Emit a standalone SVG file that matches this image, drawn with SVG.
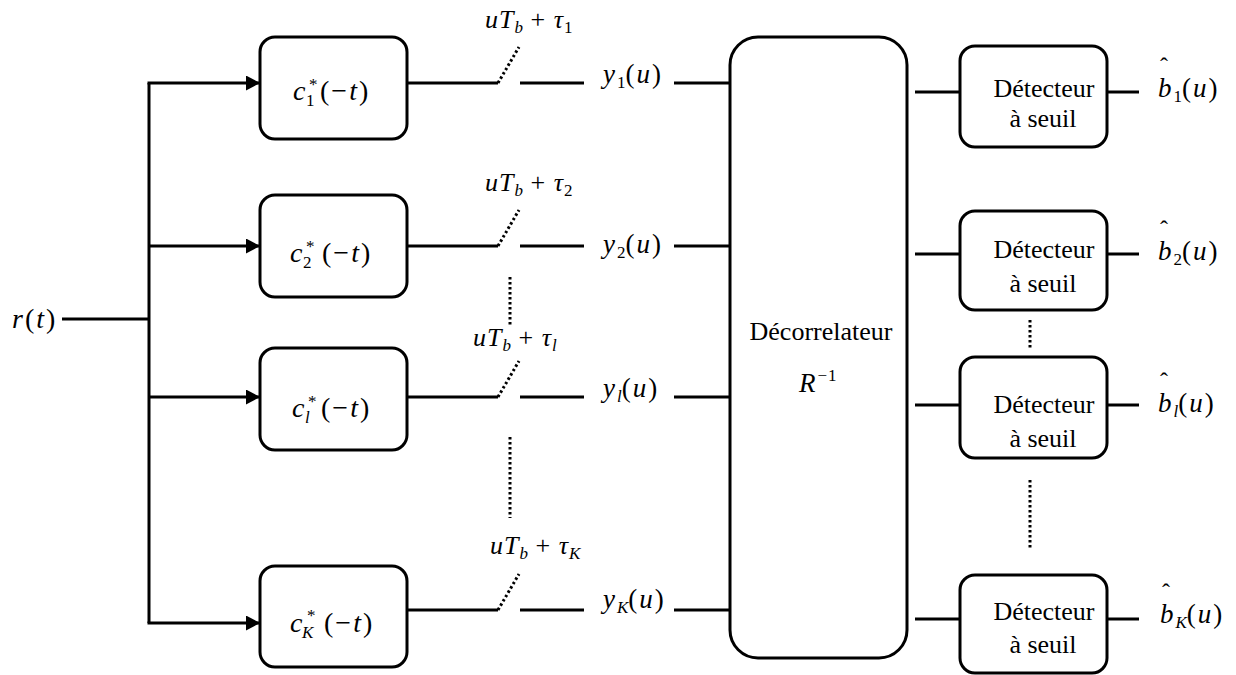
<svg xmlns="http://www.w3.org/2000/svg" width="1236" height="675" viewBox="0 0 1236 675">
<defs>
<marker id="arr" markerUnits="userSpaceOnUse" markerWidth="15" markerHeight="15" refX="14" refY="7.5" orient="auto">
<path d="M0,0 L14,7.5 L0,15 z" fill="#000"/>
</marker>
</defs>
<style>
.ln{stroke:#000;stroke-width:3;fill:none}
.dot{stroke:#000;stroke-width:3;fill:none;stroke-dasharray:2.5 2.5}
.box{fill:#fff;stroke:#000;stroke-width:3}
.m{font-family:'Liberation Serif', serif;font-style:italic;font-size:27px;letter-spacing:2px;fill:#000}
.mc{font-size:28px;letter-spacing:2px}
.mt{font-size:26px;letter-spacing:1px}
.u{font-style:normal}
.s{font-size:17px;font-style:normal;letter-spacing:0}
.si{font-size:17px;letter-spacing:0}
.hat{font-family:'Liberation Serif', serif;font-size:24px;fill:#000}
.t{font-family:'Liberation Serif', serif;font-size:26px;fill:#000}
</style>
<rect width="1236" height="675" fill="#fff"/>

<g id="connectors">
<line class="ln" x1="62" y1="319" x2="149" y2="319"/>
<line class="ln" x1="149" y1="83" x2="149" y2="623"/>
<line class="ln" x1="147.5" y1="83" x2="260" y2="83" marker-end="url(#arr)"/>
<line class="ln" x1="149" y1="246" x2="260" y2="246" marker-end="url(#arr)"/>
<line class="ln" x1="149" y1="397" x2="260" y2="397" marker-end="url(#arr)"/>
<line class="ln" x1="147.5" y1="623" x2="260" y2="623" marker-end="url(#arr)"/>
<line class="ln" x1="407" y1="83" x2="498" y2="83"/>
<line class="dot" x1="498" y1="83" x2="519" y2="47"/>
<line class="ln" x1="520" y1="83" x2="584" y2="83"/>
<line class="ln" x1="674" y1="83" x2="730" y2="83"/>
<line class="ln" x1="407" y1="246" x2="498" y2="246"/>
<line class="dot" x1="498" y1="246" x2="519" y2="210"/>
<line class="ln" x1="520" y1="246" x2="584" y2="246"/>
<line class="ln" x1="674" y1="246" x2="730" y2="246"/>
<line class="ln" x1="407" y1="397" x2="498" y2="397"/>
<line class="dot" x1="498" y1="397" x2="519" y2="361"/>
<line class="ln" x1="520" y1="397" x2="584" y2="397"/>
<line class="ln" x1="674" y1="397" x2="730" y2="397"/>
<line class="ln" x1="407" y1="610" x2="498" y2="610"/>
<line class="dot" x1="498" y1="610" x2="519" y2="574"/>
<line class="ln" x1="520" y1="610" x2="584" y2="610"/>
<line class="ln" x1="674" y1="610" x2="730" y2="610"/>
<line class="dot" x1="510" y1="277" x2="510" y2="325"/>
<line class="dot" x1="510" y1="437" x2="510" y2="518"/>
<line class="ln" x1="915" y1="92" x2="960" y2="92"/>
<line class="ln" x1="1107" y1="92" x2="1139" y2="92"/>
<line class="ln" x1="915" y1="254" x2="960" y2="254"/>
<line class="ln" x1="1107" y1="254" x2="1139" y2="254"/>
<line class="ln" x1="915" y1="405" x2="960" y2="405"/>
<line class="ln" x1="1107" y1="405" x2="1139" y2="405"/>
<line class="ln" x1="915" y1="619" x2="960" y2="619"/>
<line class="ln" x1="1107" y1="619" x2="1139" y2="619"/>
<line class="dot" x1="1030" y1="320" x2="1030" y2="349"/>
<line class="dot" x1="1030" y1="480" x2="1030" y2="548"/>
</g>

<g id="node-r">
<text class="m mc" x="12" y="328">r<tspan class="u">(</tspan>t<tspan class="u">)</tspan></text>
</g>

<g id="node-c1">
<rect class="box" x="260" y="37" width="147" height="102" rx="15"/>
<text class="m mc" x="293" y="100">c</text>
<text class="m s" x="306" y="106">1</text>
<text class="m s" x="309" y="90">*</text>
<text class="m mc" x="320" y="100"><tspan class="u">(−</tspan>t<tspan class="u">)</tspan></text>
</g>
<g id="node-c2">
<rect class="box" x="260" y="195" width="147" height="102" rx="15"/>
<text class="m mc" x="290" y="262">c</text>
<text class="m s" x="303" y="268">2</text>
<text class="m s" x="306" y="252">*</text>
<text class="m mc" x="322" y="262"><tspan class="u">(−</tspan>t<tspan class="u">)</tspan></text>
</g>
<g id="node-cl">
<rect class="box" x="260" y="348" width="147" height="102" rx="15"/>
<text class="m mc" x="292" y="417">c</text>
<text class="m si" x="305" y="423">l</text>
<text class="m s" x="308" y="407">*</text>
<text class="m mc" x="321" y="417"><tspan class="u">(−</tspan>t<tspan class="u">)</tspan></text>
</g>
<g id="node-cK">
<rect class="box" x="260" y="566" width="147" height="101" rx="15"/>
<text class="m mc" x="290" y="632">c</text>
<text class="m si" x="302" y="638">K</text>
<text class="m s" x="307" y="621">*</text>
<text class="m mc" x="324" y="632"><tspan class="u">(−</tspan>t<tspan class="u">)</tspan></text>
</g>

<g id="node-sw1">
<text class="m mt" x="485" y="28">uT<tspan class="si" dy="5">b</tspan><tspan class="u" dy="-5"> + </tspan>τ<tspan class="s" dy="5">1</tspan></text>
<text class="m" x="603" y="83">y<tspan class="s" dy="5">1</tspan><tspan class="u" dy="-5">(</tspan>u<tspan class="u">)</tspan></text>
</g>
<g id="node-sw2">
<text class="m mt" x="485" y="191">uT<tspan class="si" dy="5">b</tspan><tspan class="u" dy="-5"> + </tspan>τ<tspan class="s" dy="5">2</tspan></text>
<text class="m" x="603" y="253">y<tspan class="s" dy="5">2</tspan><tspan class="u" dy="-5">(</tspan>u<tspan class="u">)</tspan></text>
</g>
<g id="node-swl">
<text class="m mt" x="473" y="346">uT<tspan class="si" dy="5">b</tspan><tspan class="u" dy="-5"> + </tspan>τ<tspan class="si" dy="5">l</tspan></text>
<text class="m" x="603" y="397">y<tspan class="si" dy="5">l</tspan><tspan class="u" dy="-5">(</tspan>u<tspan class="u">)</tspan></text>
</g>
<g id="node-swK">
<text class="m mt" x="490" y="554">uT<tspan class="si" dy="5">b</tspan><tspan class="u" dy="-5"> + </tspan>τ<tspan class="si" dy="5">K</tspan></text>
<text class="m" x="603" y="608">y<tspan class="si" dy="5">K</tspan><tspan class="u" dy="-5">(</tspan>u<tspan class="u">)</tspan></text>
</g>

<g id="node-dec">
<rect class="box" x="730" y="37" width="177" height="621" rx="28"/>
<text class="t" x="821" y="340" text-anchor="middle">Décorrelateur</text>
<text class="m" x="799" y="392">R<tspan class="s u" dy="-11" style="letter-spacing:1px">−1</tspan></text>
</g>

<g id="node-det1">
<rect class="box" x="960" y="46" width="147" height="101" rx="15"/>
<text class="t" x="1044" y="97" text-anchor="middle">Détecteur</text>
<text class="t" x="1043" y="127" text-anchor="middle">à seuil</text>
<text class="m" x="1158" y="97">b<tspan class="s" dy="5">1</tspan><tspan class="u" dy="-5">(</tspan>u<tspan class="u">)</tspan></text>
<text class="hat" x="1160" y="74">ˆ</text>
</g>
<g id="node-det2">
<rect class="box" x="960" y="211" width="147" height="99" rx="15"/>
<text class="t" x="1044" y="258" text-anchor="middle">Détecteur</text>
<text class="t" x="1043" y="292" text-anchor="middle">à seuil</text>
<text class="m" x="1158" y="260">b<tspan class="s" dy="5">2</tspan><tspan class="u" dy="-5">(</tspan>u<tspan class="u">)</tspan></text>
<text class="hat" x="1160" y="237">ˆ</text>
</g>
<g id="node-detl">
<rect class="box" x="960" y="357" width="147" height="101" rx="15"/>
<text class="t" x="1044" y="413" text-anchor="middle">Détecteur</text>
<text class="t" x="1043" y="447" text-anchor="middle">à seuil</text>
<text class="m" x="1158" y="412">b<tspan class="si" dy="5">l</tspan><tspan class="u" dy="-5">(</tspan>u<tspan class="u">)</tspan></text>
<text class="hat" x="1160" y="389">ˆ</text>
</g>
<g id="node-detK">
<rect class="box" x="960" y="575" width="147" height="98" rx="15"/>
<text class="t" x="1044" y="620" text-anchor="middle">Détecteur</text>
<text class="t" x="1043" y="653" text-anchor="middle">à seuil</text>
<text class="m" x="1160" y="623">b<tspan class="si" dy="5">K</tspan><tspan class="u" dy="-5">(</tspan>u<tspan class="u">)</tspan></text>
<text class="hat" x="1162" y="600">ˆ</text>
</g>
</svg>
